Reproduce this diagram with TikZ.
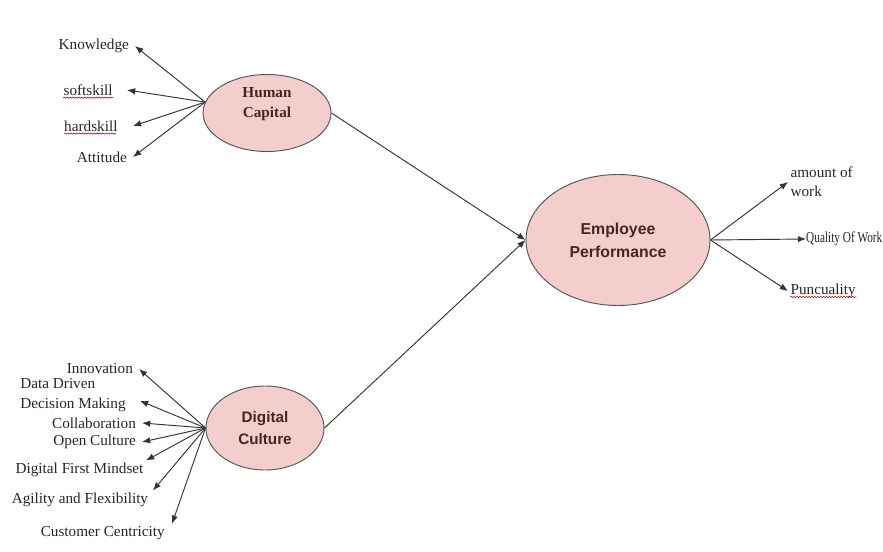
\documentclass[tikz,border=0pt]{standalone}
\usepackage{fontspec}
\setmainfont{Liberation Serif}
\newfontfamily\arialfont{Liberation Sans}
\usetikzlibrary{shapes.geometric,arrows.meta,decorations.pathmorphing}

\definecolor{blobpink}{HTML}{F4CDCD}
\definecolor{blobline}{HTML}{555555}
\definecolor{blobtext}{HTML}{4A2424}
\definecolor{spokegray}{HTML}{333333}

\tikzset{
  construct/.style={ellipse, draw=blobline, line width=0.8pt, fill=blobpink,
    inner sep=0pt, align=center, text=blobtext,
    font=\arialfont\bfseries\fontsize{13}{19}\selectfont},
  indicator/.style={inner xsep=5pt, inner ysep=2pt, align=left, text=black!85,
    font=\fontsize{13}{17}\selectfont},
  spoke/.style={draw=spokegray, line width=0.8pt, -{Latex[length=7pt,width=5.5pt]}},
  squiggle/.style={draw=red!75!black, line width=0.5pt,
    decorate, decoration={snake, amplitude=0.5pt, segment length=2.5pt}}
}

\begin{document}
\begin{tikzpicture}[x=0.03cm,y=-0.03cm]
    \useasboundingbox (0,0) rectangle (883,551);

    % latent constructs
    \node[construct, minimum width=3.84cm, minimum height=2.31cm, align=none,
          font=\bfseries\fontsize{13}{17}\selectfont]
          (hc) at (267,113)
          {\raisebox{5pt}[0pt][0pt]{\begin{tabular}{@{}c@{}}Human\\Capital\end{tabular}}};
    \node[construct, minimum width=3.54cm, minimum height=2.52cm]
          (dc) at (265,428) {Digital\\Culture};
    \node[construct, minimum width=5.52cm, minimum height=3.93cm,
          font=\arialfont\bfseries\fontsize{13.5}{19.5}\selectfont]
          (ep) at (618,240) {Employee\\Performance};

    \coordinate (hcout) at (hc.170);
    \coordinate (dcout) at (dc.west);
    \coordinate (epout) at (ep.east);

    % human capital indicators
    \node[indicator, anchor=east] (know) at (135,46) {Knowledge};
    \node[indicator, anchor=east, inner xsep=12pt] (soft) at (127,90) {softskill};
    \node[indicator, anchor=east, inner xsep=13pt] (hard) at (133,126) {hardskill};
    \node[indicator, anchor=east] (att) at (133,157) {Attitude};

    % digital culture indicators
    \node[indicator, anchor=east] (innov) at (139,369) {Innovation};
    \node[indicator, anchor=east, inner xsep=12pt] (ddm) at (140,395)
          {Data Driven\\Decision Making};
    \node[indicator, anchor=east] (collab) at (142,423) {Collaboration};
    \node[indicator, anchor=east] (open) at (142,442) {Open Culture};
    \node[indicator, anchor=east, inner xsep=2pt] (dfm) at (146,470) {Digital First Mindset};
    \node[indicator, anchor=east, inner xsep=4pt] (agile) at (153,500) {Agility and Flexibility};
    \node[indicator, anchor=east, inner xsep=6pt] (cust) at (172,533) {Customer Centricity};

    % employee performance indicators
    \node[indicator, anchor=west, inner xsep=2pt, font=\fontsize{13}{16}\selectfont]
          (amt) at (788,182) {amount of\\work};
    \node[indicator, anchor=west, inner xsep=0pt] (qual) at (806,239)
          {\scalebox{0.74}[1]{Quality Of Work}};
    \node[indicator, anchor=west, inner xsep=2pt] (punc) at (788,291) {Puncuality};

    % spell-check marks
    \draw[squiggle] ([yshift=-2pt]soft.base west) ++(12pt,0) -- +(50,0);
    \draw[squiggle] ([yshift=-2pt]hard.base west) ++(13pt,0) -- +(52,0);
    \draw[squiggle] ([yshift=-2pt]punc.base west) ++(2pt,0) -- +(66,0);

    % structural paths
    \draw[spoke] (hc.east) -- (ep.west);
    \draw[spoke] (dc.east) -- (ep.west);

    % outer model
    \foreach \ind/\anc in {know/east, soft/east, hard/east, att/east}
      \draw[spoke] (hcout) -- (\ind.\anc);
    \foreach \ind/\anc in {innov/east, ddm/355, collab/east, open/east,
                           dfm/north east, agile/north east, cust/north east}
      \draw[spoke] (dcout) -- (\ind.\anc);
    \foreach \ind in {amt, qual, punc}
      \draw[spoke] (epout) -- (\ind.west);
\end{tikzpicture}
\end{document}
